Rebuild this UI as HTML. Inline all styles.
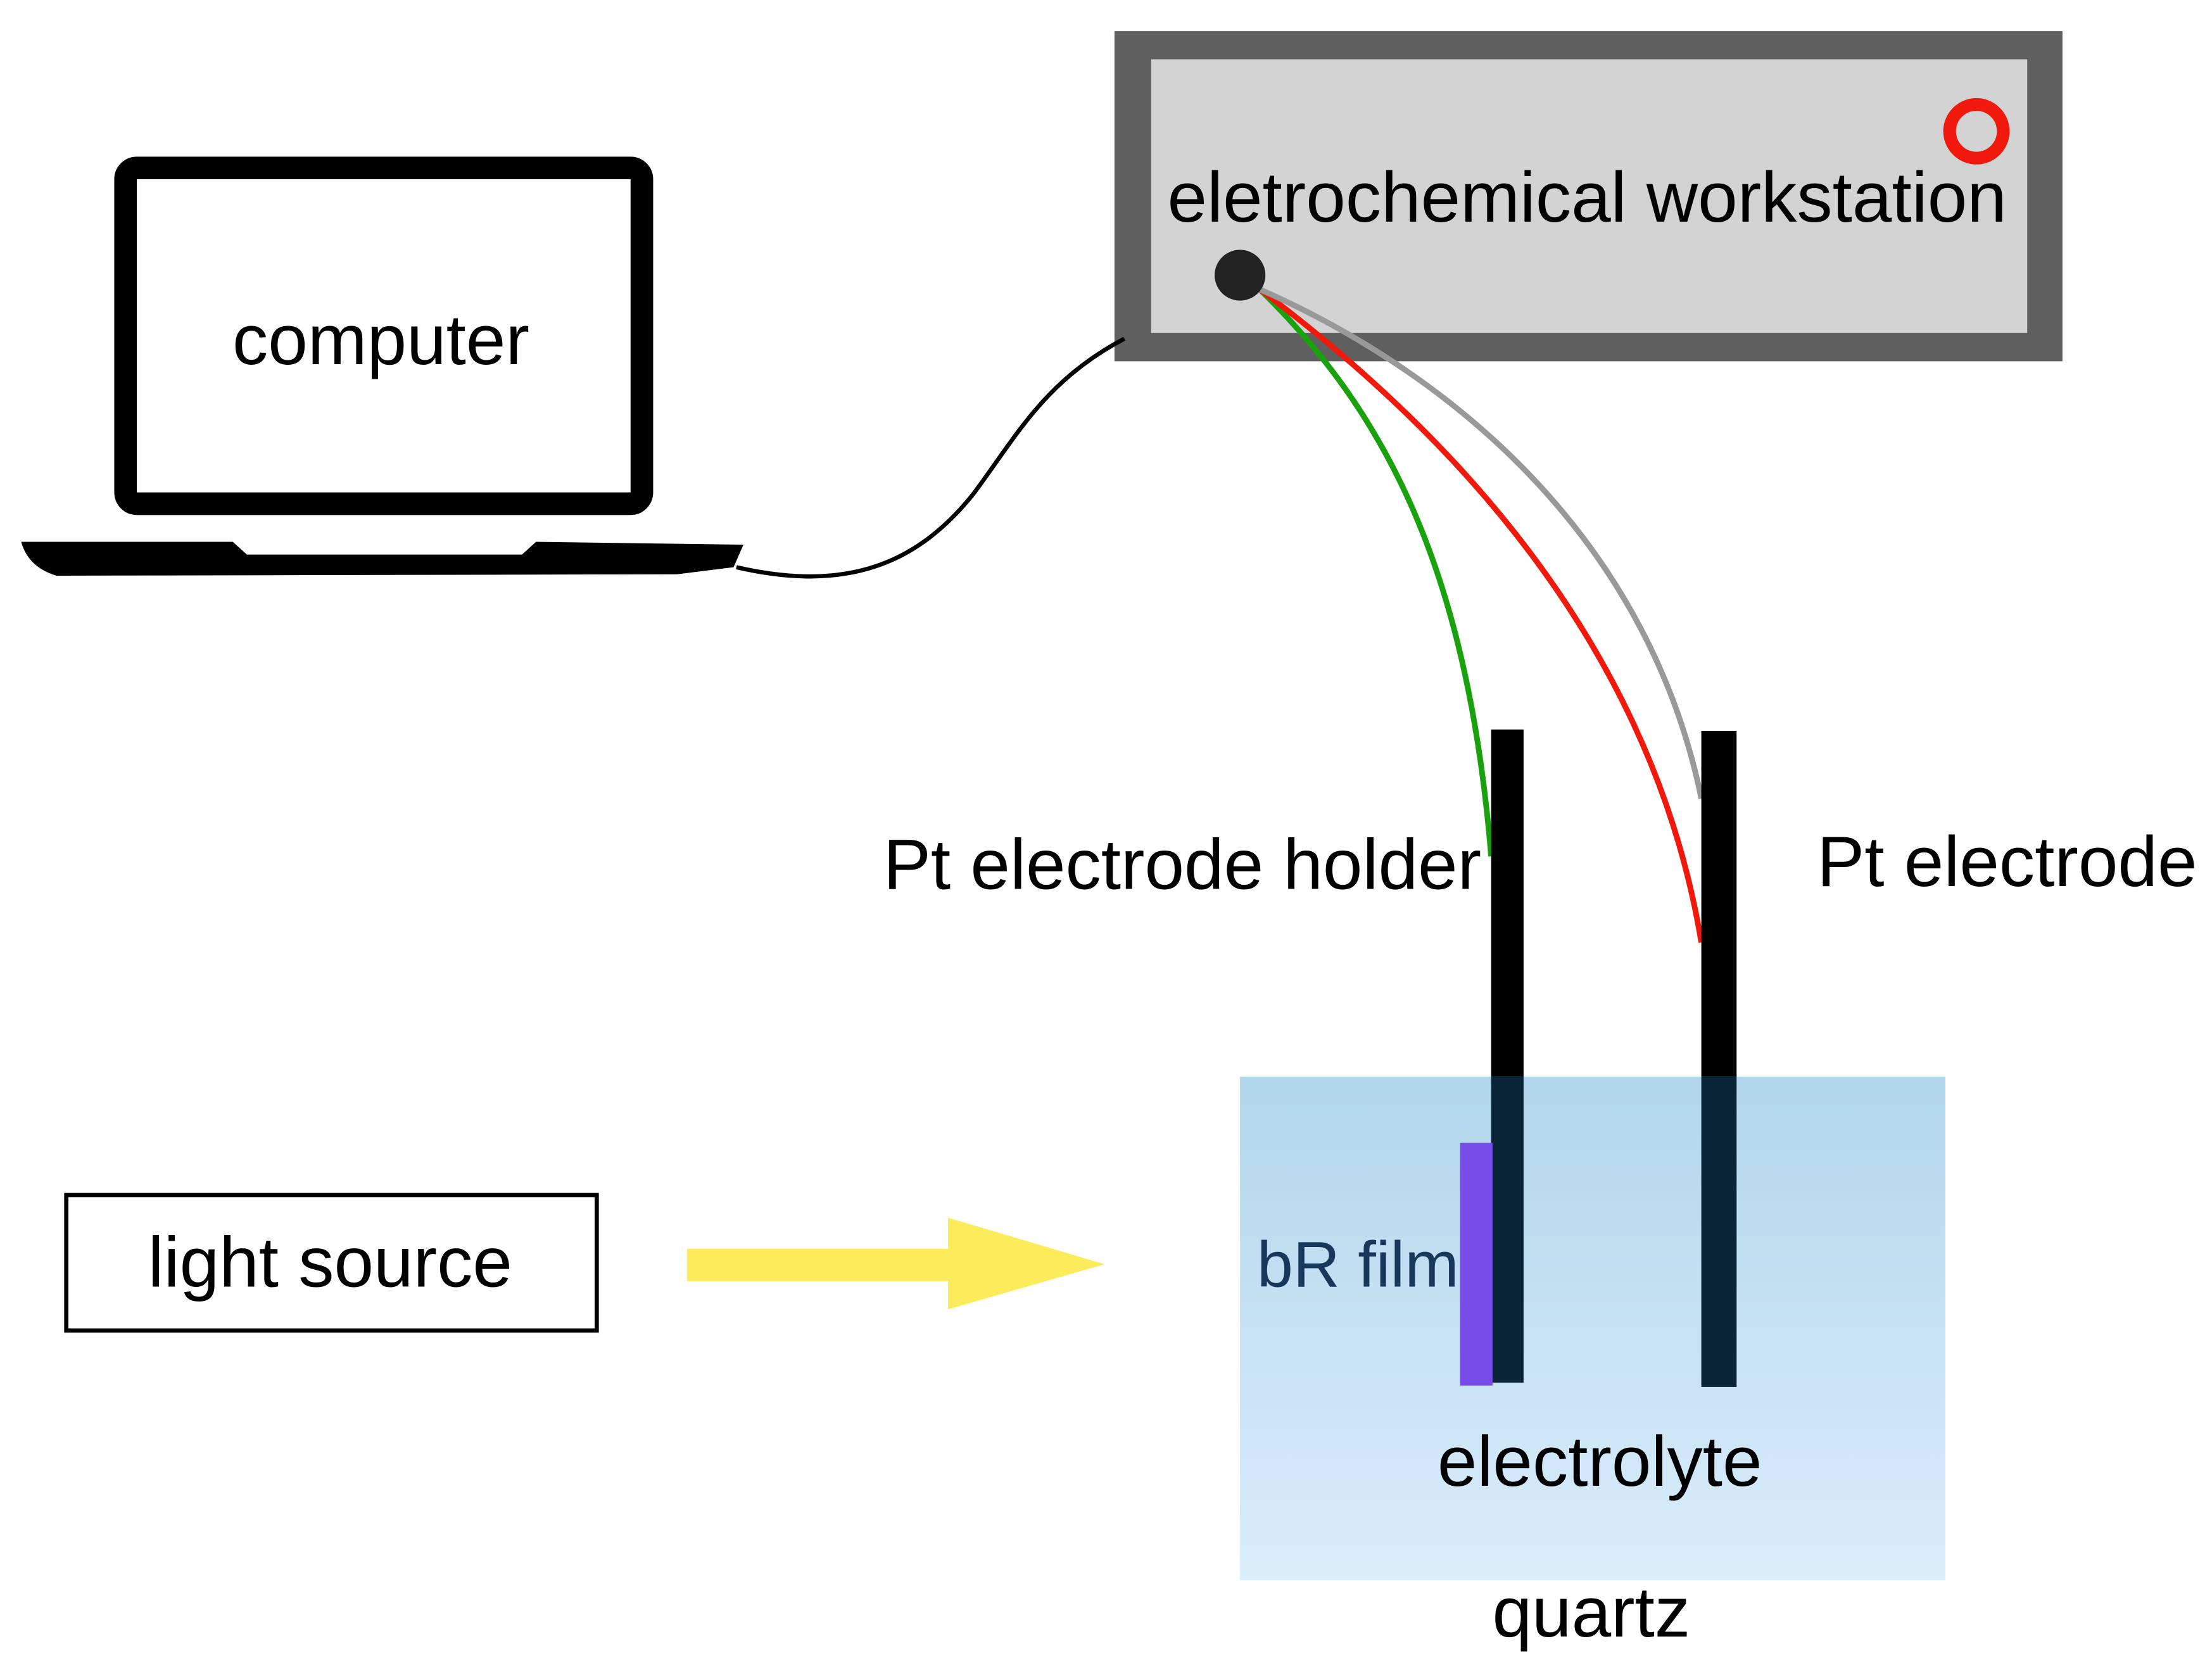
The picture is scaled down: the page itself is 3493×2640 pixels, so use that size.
<!DOCTYPE html>
<html><head><meta charset="utf-8"><style>
html,body{margin:0;padding:0;background:#fff;}
svg{display:block;}
text{font-family:"Liberation Sans",Arial,sans-serif;fill:#000;}
</style></head><body>
<svg width="3493" height="2640" viewBox="0 0 1568 1185" xmlns="http://www.w3.org/2000/svg">
<defs>
<linearGradient id="g" x1="0" y1="0" x2="0" y2="1">
<stop offset="0" stop-color="#b2d6eb"/><stop offset="1" stop-color="#d9edfb"/>
</linearGradient>
</defs>
<rect x="790" y="22" width="672" height="234" fill="#5f5f5f"/>
<rect x="816" y="42" width="621" height="194" fill="#d3d3d3"/>
<circle cx="1401" cy="93" r="19" fill="none" stroke="#f0190c" stroke-width="9"/>
<text x="1125" y="157" font-size="50.5" text-anchor="middle">eletrochemical workstation</text>
<rect x="89" y="119" width="366" height="238" rx="8" fill="#fff" stroke="#000" stroke-width="16"/>
<path d="M15 384 L165 384 L175 393 L370 393 L380 384 L527 386 L520 402 L480 407 L40 408 Q20 402 15 384 Z" fill="#000"/>
<text x="270" y="258" font-size="50.5" text-anchor="middle">computer</text>
<path d="M797 240 C740 270 720 310 690 350 C650 400 600 420 522 402" fill="none" stroke="#000" stroke-width="3"/>
<path d="M893 205 C980 290 1040 400 1057 607" fill="none" stroke="#1aa10e" stroke-width="4"/>
<path d="M893 205 C1020 300 1170 450 1206 668" fill="none" stroke="#f0190c" stroke-width="4"/>
<path d="M893 205 C1040 270 1170 390 1206 566" fill="none" stroke="#999" stroke-width="4"/>
<circle cx="879" cy="195" r="18" fill="#222"/>
<rect x="1057" y="517" width="23" height="463" fill="#000"/>
<rect x="1206" y="518" width="25" height="465" fill="#000"/>
<rect x="879" y="763" width="500" height="357" fill="url(#g)"/>
<rect x="1057" y="763" width="23" height="217" fill="#0b2538"/>
<rect x="1206" y="763" width="25" height="220" fill="#0b2538"/>
<rect x="1035" y="810" width="23" height="172" fill="#784ce9"/>
<text x="891" y="912" font-size="46" style="fill:#17385a">bR film</text>
<text x="1134" y="1053" font-size="50.5" text-anchor="middle">electrolyte</text>
<text x="1128" y="1160" font-size="50.5" text-anchor="middle">quartz</text>
<text x="1050" y="630" font-size="50.5" text-anchor="end">Pt electrode holder</text>
<text x="1288" y="628" font-size="50.5">Pt electrode</text>
<rect x="47" y="847" width="376" height="96" fill="#fff" stroke="#000" stroke-width="3"/>
<text x="234" y="912" font-size="50.5" text-anchor="middle">light source</text>
<path d="M487 885 L672 885 L672 863 L783 896 L672 928 L672 908 L487 908 Z" fill="#fcec5c"/>
</svg>
</body></html>
